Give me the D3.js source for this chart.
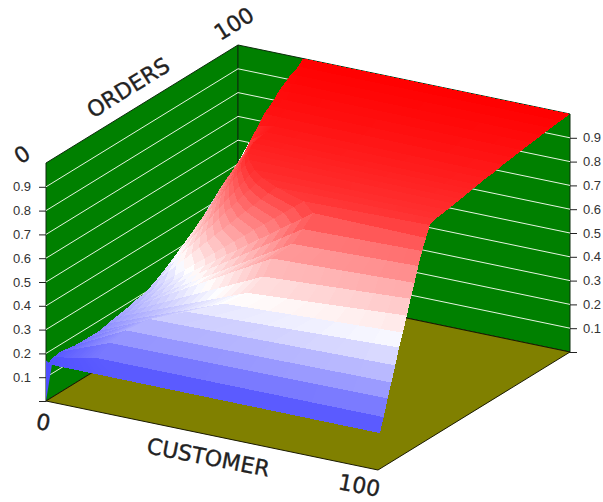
<!DOCTYPE html>
<html>
<head>
<meta charset="utf-8">
<style>
  html, body { margin: 0; padding: 0; background: #fff; }
  svg { display: block; }
  .tick text { font-family: "Liberation Sans", Arial, sans-serif; font-size: 13px; fill: #333; }
  .tick line { stroke: #222; }
  .title3d { font-family: "DejaVu Sans", Verdana, sans-serif; font-size: 22px; fill: #222; stroke: #222; stroke-width: .35; text-anchor: middle; dominant-baseline: middle; }
  .cell { shape-rendering: crispEdges; }
</style>
</head>
<body>
<svg id="chart" width="603" height="502"></svg>
<script src="https://cdn.jsdelivr.net/npm/d3@7"></script>
<script>
// Surface profile: one entry per row of constant ORDERS.
const orders       = [1, 3, 5, 7, 9, 11, 13, 15, 17, 19, 21, 23, 25, 27, 30, 33, 36, 40, 43, 46, 49, 52, 56, 60, 65, 70, 75, 80, 85, 90, 95, 100];
// Height of the row where CUSTOMER is 0 (this part sits behind the ridge).
const baseHeight   = [.15, .165, .16, .155, .15, .14, .13, .12, .1, .1, .1, .1, .1, .1, .1, .1, .1, .1, .1, .1, .1, .1, .1, .1, .1, .1, .1, .1, .1, .1, .1, .1];
// Where the row crosses the ridge line.
const ridgeCustomer = [0, .5, 1.3, 4.7, 7.4, 9.9, 11.1, 12.1, 12.5, 12.8, 13.2, 13.5, 13.9, 14.2, 14.9, 16.1, 17.4, 18.7, 19.4, 22.8, 24.1, 29.3, 29.1, 29.2, 28.1, 27, 25.6, 23.9, 22.8, 21.7, 20.7, 19.6];
const ridgeHeight   = [.15, .17, .185, .213, .242, .27, .293, .312, .319, .327, .336, .347, .355, .362, .387, .426, .47, .524, .557, .657, .72, .863, .901, .944, .967, .972, .976, .976, .981, .989, .988, 1];
// Where the row's rising part levels off.
const kneeCustomer = [20, 13.5, 16.4, 20, 26, 36, 46, 52, 55.6, 57, 62, 64, 66, 62, 52, 46, 42, 38, 36, 35, 34, 34, 34, 34, 33, 32, 30, 28, 26, 24, 22, 20];
const kneeHeight   = [.15, .205, .267, .32, .375, .425, .478, .531, .6, .67, .736, .794, .857, .885, .9, .908, .915, .925, .93, .935, .94, .945, .95, .955, .965, .97, .976, .98, .985, .99, .995, 1];
// Height of the row at CUSTOMER = 100.
const edgeHeight   = [.15, .207, .276, .333, .395, .46, .513, .574, .635, .692, .753, .806, .851, .895, .906, .91, .914, .92, .925, .93, .935, .94, .947, .95, .96, .965, .972, .978, .984, .99, .995, 1];

// Narrow sliver that joins the first row to the origin.
const sliverCustomer = [0, 1.2, 0];
const sliverOrders   = [0, 1, 0];
const sliverHeight   = [0, .15, .17];

const heightTicks = [0, .1, .2, .3, .4, .5, .6, .7, .8, .9];

const svg = d3.select("#chart");

// Oblique projection of the unit box onto the page.
const origin = { x: 46, y: 401 };
const custX = d3.scaleLinear([0, 100], [0, 332]);
const custY = d3.scaleLinear([0, 100], [0, 69]);
const ordX  = d3.scaleLinear([0, 100], [0, 192]);
const ordY  = d3.scaleLinear([0, 100], [0, -118]);
const rise  = d3.scaleLinear([0, 1], [0, -238]);
const project = (c, o, z) => [
  origin.x + custX(c) + ordX(o),
  origin.y + custY(c) + ordY(o) + rise(z)
];
const polyPath = pts => d3.line()(pts) + "Z";

const heat = d3.scaleLinear([0, .5, 1], ["#0000ff", "#ffffff", "#ff0000"]);

// Walls
const leftWall = [[0, 0, 0], [0, 100, 0], [0, 100, 1], [0, 0, 1]];
const backWall = [[0, 100, 0], [100, 100, 0], [100, 100, 1], [0, 100, 1]];
const floorQuad = [[0, 0, 0], [100, 0, 0], [100, 100, 0], [0, 100, 0]];

svg.selectAll("path.wall").data([leftWall, backWall]).join("path")
  .attr("class", "wall")
  .attr("d", q => polyPath(q.map(p => project(...p))))
  .attr("fill", "#008000")
  .attr("stroke", "#0c2c0c")
  .attr("stroke-width", 1);

// Horizontal grid on both walls
const gridPairs = heightTicks.slice(1).flatMap(z => [
  [[0, 0, z], [0, 100, z]],
  [[0, 100, z], [100, 100, z]]
]);
svg.selectAll("line.grid").data(gridPairs).join("line")
  .attr("class", "grid")
  .attr("x1", d => project(...d[0])[0])
  .attr("y1", d => project(...d[0])[1])
  .attr("x2", d => project(...d[1])[0])
  .attr("y2", d => project(...d[1])[1])
  .attr("stroke", "#e6f4e0")
  .attr("stroke-width", 1);

// Floor
svg.append("path")
  .attr("d", polyPath(floorQuad.map(p => project(...p))))
  .attr("fill", "#808000")
  .attr("stroke", "#1a1a00")
  .attr("stroke-width", 1);

// Surface, painted far to near: high ORDERS first, low CUSTOMER first.
const rowSpans = orders.map((o, i) => [
  [0, baseHeight[i]],
  [ridgeCustomer[i], ridgeHeight[i]],
  [kneeCustomer[i], kneeHeight[i]],
  [100, edgeHeight[i]]
]);
const spanCells = [1, 16, 8];
const at = (a, b, t) => [a[0] + (b[0] - a[0]) * t, a[1] + (b[1] - a[1]) * t];
const cells = [];
for (let i = orders.length - 2; i >= 0; i--) {
  const near = rowSpans[i], far = rowSpans[i + 1];
  spanCells.forEach((n, s) => {
    for (let k = 0; k < n; k++) {
      const t0 = k / n, t1 = (k + 1) / n;
      const a = at(far[s], far[s + 1], t0), b = at(far[s], far[s + 1], t1);
      const c = at(near[s], near[s + 1], t1), d = at(near[s], near[s + 1], t0);
      cells.push({
        pts: [
          project(a[0], orders[i + 1], a[1]),
          project(b[0], orders[i + 1], b[1]),
          project(c[0], orders[i], c[1]),
          project(d[0], orders[i], d[1])
        ],
        z: (a[1] + b[1] + c[1] + d[1]) / 4
      });
    }
  });
}
svg.append("path")
  .attr("d", polyPath(sliverCustomer.map((c, i) => project(c, sliverOrders[i], sliverHeight[i]))))
  .attr("fill", heat(.15));
svg.selectAll("path.cell").data(cells).join("path")
  .attr("class", "cell")
  .attr("d", d => polyPath(d.pts))
  .attr("fill", d => heat(d.z));

// Height axes at the two outer verticals
const [lx, ly0] = project(0, 0, 0);
const [rx, ry0] = project(100, 100, 0);
const fmt = v => v === 0 ? "" : d3.format(".1f")(v);
svg.append("g")
  .attr("transform", `translate(${lx},0)`)
  .call(d3.axisLeft(d3.scaleLinear([0, 1], [ly0, ly0 + rise(1)])).tickValues(heightTicks).tickFormat(fmt).tickSize(7).tickPadding(8))
  .call(g => g.select(".domain").remove());
svg.append("g")
  .attr("transform", `translate(${rx},0)`)
  .call(d3.axisRight(d3.scaleLinear([0, 1], [ry0, ry0 + rise(1)])).tickValues(heightTicks).tickFormat(fmt).tickSize(7).tickPadding(6))
  .call(g => g.select(".domain").remove());

// Axis titles laid along the box edges
const titles = [
  { text: "0",        x: 23,  y: 156, angle: -32 },
  { text: "ORDERS",   x: 129, y: 89,  angle: -32 },
  { text: "100",      x: 235, y: 25,  angle: -32 },
  { text: "0",        x: 43,  y: 424, angle: 11 },
  { text: "CUSTOMER", x: 208, y: 459, angle: 11 },
  { text: "100",      x: 359, y: 487, angle: 11 }
];
svg.selectAll("text.title3d").data(titles).join("text")
  .attr("class", "title3d")
  .attr("transform", d => `translate(${d.x},${d.y}) rotate(${d.angle})`)
  .text(d => d.text);
</script>
</body>
</html>
